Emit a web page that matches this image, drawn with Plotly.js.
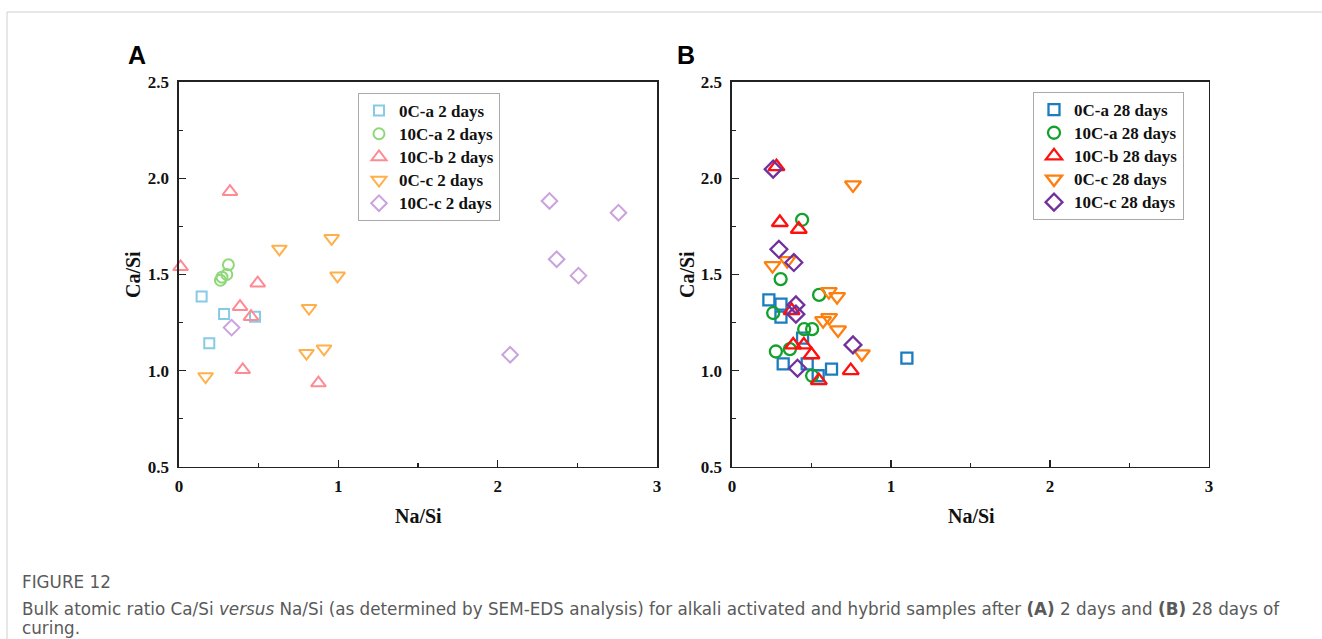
<!DOCTYPE html>
<html>
<head>
<meta charset="utf-8">
<script src="https://cdn.plot.ly/plotly-3.0.1.min.js"></script>
<style>html,body{margin:0;padding:0;background:#fff;}#chart{width:1322px;height:639px;}</style>
</head>
<body>
<div id="chart"></div>
<script>
// Panel A (2 days)
const a_0Ca_x = [0.142, 0.283, 0.477, 0.19];
const a_0Ca_y = [1.385, 1.295, 1.281, 1.143];
const a_10Ca_x = [0.31, 0.30, 0.27, 0.26];
const a_10Ca_y = [1.55, 1.50, 1.486, 1.47];
const a_10Cb_x = [0.32, 0.01, 0.494, 0.383, 0.452, 0.40, 0.875];
const a_10Cb_y = [1.93, 1.54, 1.455, 1.333, 1.281, 1.005, 0.936];
const a_0Cc_x = [0.167, 0.63, 0.958, 0.995, 0.816, 0.91, 0.80];
const a_0Cc_y = [0.97, 1.633, 1.688, 1.493, 1.325, 1.114, 1.091];
const a_10Cc_x = [0.33, 2.325, 2.758, 2.37, 2.507, 2.078];
const a_10Cc_y = [1.224, 1.882, 1.821, 1.579, 1.494, 1.083];

// Panel B (28 days)
const b_0Ca_x = [0.232, 0.308, 0.308, 0.444, 0.322, 0.473, 0.542, 0.626, 1.10];
const b_0Ca_y = [1.368, 1.346, 1.278, 1.169, 1.036, 1.036, 0.974, 1.008, 1.065];
const b_10Ca_x = [0.441, 0.306, 0.259, 0.548, 0.454, 0.504, 0.276, 0.364, 0.504];
const b_10Ca_y = [1.784, 1.476, 1.30, 1.394, 1.216, 1.216, 1.10, 1.112, 0.974];
const b_10Cb_x = [0.28, 0.301, 0.42, 0.375, 0.385, 0.452, 0.50, 0.546, 0.747];
const b_10Cb_y = [2.06, 1.77, 1.735, 1.313, 1.134, 1.134, 1.083, 0.949, 1.001];
const b_0Cc_x = [0.761, 0.255, 0.347, 0.609, 0.661, 0.611, 0.573, 0.667, 0.817];
const b_0Cc_y = [1.965, 1.546, 1.572, 1.411, 1.385, 1.276, 1.26, 1.212, 1.088];
const b_10Cc_x = [0.259, 0.295, 0.389, 0.402, 0.402, 0.761, 0.412];
const b_10Cc_y = [2.047, 1.631, 1.562, 1.342, 1.294, 1.134, 1.013];

const namesA = ['0C-a 2 days', '10C-a 2 days', '10C-b 2 days', '0C-c 2 days', '10C-c 2 days'];
const namesB = ['0C-a 28 days', '10C-a 28 days', '10C-b 28 days', '0C-c 28 days', '10C-c 28 days'];
const symbols = ['square-open', 'circle-open', 'triangle-up-open', 'triangle-down-open', 'diamond-open'];
const sizes = [10, 11, 13, 13, 12];
const colorsA = ['#86cbe6', '#8ed878', '#ff8a94', '#ffb04a', '#caa3dd'];
const colorsB = ['#1b7dbf', '#12a12a', '#ff1010', '#ff7f0e', '#7030a0'];

const dataA = [[a_0Ca_x, a_0Ca_y], [a_10Ca_x, a_10Ca_y], [a_10Cb_x, a_10Cb_y], [a_0Cc_x, a_0Cc_y], [a_10Cc_x, a_10Cc_y]];
const dataB = [[b_0Ca_x, b_0Ca_y], [b_10Ca_x, b_10Ca_y], [b_10Cb_x, b_10Cb_y], [b_0Cc_x, b_0Cc_y], [b_10Cc_x, b_10Cc_y]];

const legName = s => '<span style="font-size:17px">' + s + '</span>';

const traces = [];
dataA.forEach((d, i) => traces.push({
  x: d[0], y: d[1], type: 'scatter', mode: 'markers', name: legName(namesA[i]),
  xaxis: 'x', yaxis: 'y', legend: 'legend', cliponaxis: false,
  marker: {symbol: symbols[i], size: sizes[i], color: colorsA[i], line: {width: 2, color: colorsA[i]}}
}));
dataB.forEach((d, i) => traces.push({
  x: d[0], y: d[1], type: 'scatter', mode: 'markers', name: legName(namesB[i]),
  xaxis: 'x2', yaxis: 'y2', legend: 'legend2', cliponaxis: false,
  marker: {symbol: symbols[i], size: sizes[i] + 1, color: colorsB[i], line: {width: 2.3, color: colorsB[i]}}
}));

const tickFont = {family: 'Liberation Serif, Times New Roman, serif', size: 17, color: '#111', weight: 'bold'};
function xax(domain) {
  return {
    domain: domain, range: [0, 3], tickvals: [0, 1, 2, 3], ticktext: ['0', '1', '2', '3'],
    ticks: 'inside', ticklen: 7, tickwidth: 1.3, tickcolor: '#222', ticklabelstandoff: 3,
    minor: {dtick: 0.5, ticks: 'inside', ticklen: 4, tickwidth: 1.2, tickcolor: '#222'},
    showline: true, linecolor: '#222', linewidth: 1.5, mirror: true,
    showgrid: false, zeroline: false, tickfont: tickFont, fixedrange: true
  };
}
function yax(anchor) {
  return {
    anchor: anchor, domain: [0.2692, 0.8717], range: [0.5, 2.5],
    tickvals: [0.5, 1.0, 1.5, 2.0, 2.5], ticktext: ['0.5', '1.0', '1.5', '2.0', '2.5'],
    ticks: 'inside', ticklen: 7, tickwidth: 1.3, tickcolor: '#222', ticklabelstandoff: 5,
    minor: {dtick: 0.25, ticks: 'inside', ticklen: 4, tickwidth: 1.2, tickcolor: '#222'},
    showline: true, linecolor: '#222', linewidth: 1.5, mirror: true,
    showgrid: false, zeroline: false, tickfont: tickFont, fixedrange: true
  };
}

const legFont = {family: 'Liberation Serif, Times New Roman, serif', size: 15.5, color: '#111', weight: 'bold'};
const titleFont = {family: 'Liberation Serif, Times New Roman, serif', size: 20, color: '#111', weight: 'bold'};
const capFont = {family: 'DejaVu Sans, sans-serif', size: 16.8, color: '#5a5a5a'};

const layout = {
  width: 1322, height: 639,
  margin: {l: 0, r: 0, t: 0, b: 0},
  paper_bgcolor: '#fff', plot_bgcolor: '#fff',
  showlegend: true,
  xaxis: Object.assign(xax([0.1354, 0.4970]), {anchor: 'y'}),
  yaxis: yax('x'),
  xaxis2: Object.assign(xax([0.5537, 0.9145]), {anchor: 'y2'}),
  yaxis2: yax('x2'),
  legend: {x: 358/1322, y: 1 - 93/639, xanchor: 'left', yanchor: 'top', bgcolor: '#fff',
    bordercolor: '#aaa', borderwidth: 1, font: legFont, tracegroupgap: 0, itemwidth: 30},
  legend2: {x: 1033/1322, y: 1 - 92/639, xanchor: 'left', yanchor: 'top', bgcolor: '#fff',
    bordercolor: '#aaa', borderwidth: 1, font: legFont, tracegroupgap: 0, itemwidth: 30},
  shapes: [
    {type: 'line', xref: 'paper', yref: 'paper', x0: 7/1322, x1: 1, y0: 1 - 12/639, y1: 1 - 12/639, line: {color: '#cfcfcf', width: 1}},
    {type: 'line', xref: 'paper', yref: 'paper', x0: 7/1322, x1: 7/1322, y0: 0, y1: 1 - 12/639, line: {color: '#cfcfcf', width: 1}}
  ],
  annotations: [
    {text: 'A', xref: 'paper', yref: 'paper', x: 137/1322, y: 1 - 55/639, xanchor: 'center', yanchor: 'middle', showarrow: false,
      font: {family: 'Liberation Sans, Arial, sans-serif', size: 25, color: '#000', weight: 'bold'}},
    {text: 'B', xref: 'paper', yref: 'paper', x: 686/1322, y: 1 - 55/639, xanchor: 'center', yanchor: 'middle', showarrow: false,
      font: {family: 'Liberation Sans, Arial, sans-serif', size: 25, color: '#000', weight: 'bold'}},
    {text: 'Na/Si', xref: 'paper', yref: 'paper', x: 418/1322, y: 1 - 516/639, xanchor: 'center', yanchor: 'middle', showarrow: false, font: titleFont},
    {text: 'Na/Si', xref: 'paper', yref: 'paper', x: 971/1322, y: 1 - 516/639, xanchor: 'center', yanchor: 'middle', showarrow: false, font: titleFont},
    {text: 'Ca/Si', xref: 'paper', yref: 'paper', x: 133/1322, y: 1 - 275/639, xanchor: 'center', yanchor: 'middle', showarrow: false, textangle: -90, font: titleFont},
    {text: 'Ca/Si', xref: 'paper', yref: 'paper', x: 687/1322, y: 1 - 275/639, xanchor: 'center', yanchor: 'middle', showarrow: false, textangle: -90, font: titleFont},
    {text: 'FIGURE 12', xref: 'paper', yref: 'paper', x: 20/1322, y: 1 - 582/639, xanchor: 'left', yanchor: 'middle', showarrow: false, font: capFont},
    {text: 'Bulk atomic ratio Ca/Si <i>versus</i> Na/Si (as determined by SEM-EDS analysis) for alkali activated and hybrid samples after <b>(A)</b> 2 days and <b>(B)</b> 28 days of', xref: 'paper', yref: 'paper', x: 20/1322, y: 1 - 609/639, xanchor: 'left', yanchor: 'middle', showarrow: false, font: capFont},
    {text: 'curing.', xref: 'paper', yref: 'paper', x: 20/1322, y: 1 - 628/639, xanchor: 'left', yanchor: 'middle', showarrow: false, font: capFont}
  ]
};

Plotly.newPlot('chart', traces, layout, {displayModeBar: false, staticPlot: true});
</script>
</body>
</html>
